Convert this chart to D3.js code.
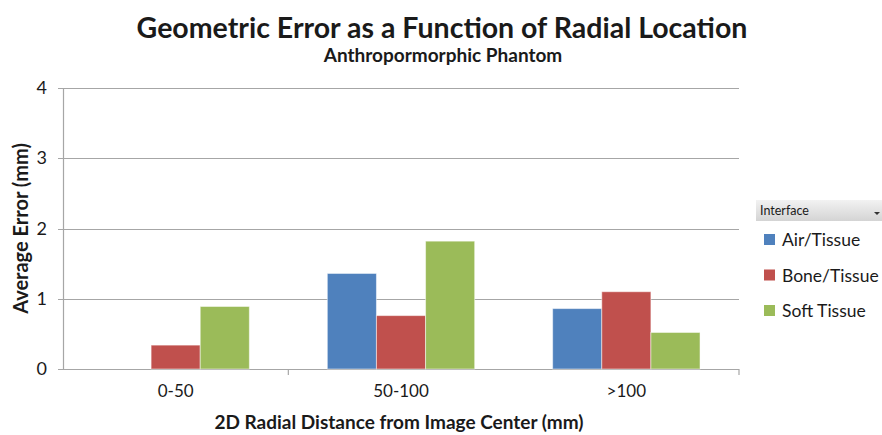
<!DOCTYPE html>
<html>
<head>
<meta charset="utf-8">
<style>
body, html {
	margin: 0;
	background: #fff;
}
text {
	font-family: Lato, "Open Sans", sans-serif;
	fill: #1a1a1a;
}
</style>
</head>
<body>
<div id="chartContainer"></div>
<script src="https://cdn.jsdelivr.net/npm/d3@7"></script>
<script>

const categories = ["0-50", "50-100", ">100"];
const seriesNames = ["Air/Tissue", "Bone/Tissue", "Soft Tissue"];
const airTissue = [0, 1.36, 0.86];
const boneTissue = [0.34, 0.76, 1.10];
const softTissue = [0.89, 1.82, 0.52];
const yTicks = [0, 1, 2, 3, 4];

const colors = ["#4F81BD", "#C0504D", "#9BBB59"];
const GRID_COLOR = "#a6a6a6";

const WIDTH = 882, HEIGHT = 435;
const margin = {top: 88, left: 63, right: 143, bottom: 67};

const svg = d3.select("#chartContainer").append("svg")
	.attr("width", WIDTH)
	.attr("height", HEIGHT);

const x0 = d3.scaleBand()
	.domain(categories)
	.range([margin.left, WIDTH - margin.right])
	.paddingInner(0.346)
	.paddingOuter(0.173);

const x1 = d3.scaleBand()
	.domain(seriesNames)
	.range([0, x0.bandwidth()]);

const y = d3.scaleLinear()
	.domain([0, 4])
	.range([HEIGHT - margin.bottom + 1, margin.top]);

// gridlines
svg.append("g").selectAll("line")
	.data(yTicks)
	.enter().append("line")
		.attr("x1", margin.left - 5)
		.attr("x2", WIDTH - margin.right)
		.attr("y1", d => Math.round(y(d)) + 0.5)
		.attr("y2", d => Math.round(y(d)) + 0.5)
		.style("stroke", GRID_COLOR)
		.style("stroke-width", 1.2);

// y axis line
svg.append("line")
	.attr("x1", margin.left + 0.5).attr("x2", margin.left + 0.5)
	.attr("y1", y(4)).attr("y2", y(0))
	.style("stroke", GRID_COLOR)
	.style("stroke-width", 1.2);

// x category boundary ticks
const step = x0.step();
const bounds = categories.map((c, i) => x0(c) - x0.paddingOuter() * step + (i + 1) * step);
svg.append("g").selectAll("line")
	.data(bounds)
	.enter().append("line")
		.attr("x1", d => d).attr("x2", d => d)
		.attr("y1", y(0)).attr("y2", y(0) + 6)
		.style("stroke", GRID_COLOR)
		.style("stroke-width", 1.2);

// y tick labels
svg.append("g").selectAll("text")
	.data(yTicks)
	.enter().append("text")
		.attr("x", 47)
		.attr("y", d => y(d) + 6)
		.attr("text-anchor", "end")
		.attr("font-size", "18px")
		.text(d => d);

// x tick labels
svg.append("g").selectAll("text")
	.data(categories)
	.enter().append("text")
		.attr("x", d => x0(d) + x0.bandwidth() / 2)
		.attr("y", 397)
		.attr("text-anchor", "middle")
		.attr("font-size", "17px")
		.text(d => d);

// bars
const tableRows = categories.map((c, i) => ({
	category: c,
	values: [airTissue[i], boneTissue[i], softTissue[i]]
}));

const groups = svg.append("g").selectAll("g")
	.data(tableRows)
	.enter().append("g")
		.attr("transform", d => `translate(${x0(d.category)},0)`);

groups.selectAll("rect")
	.data(d => d.values.map((v, i) => ({name: seriesNames[i], value: v, color: colors[i]})))
	.enter().append("rect")
		.filter(d => d.value > 0)
		.attr("x", d => x1(d.name))
		.attr("width", x1.bandwidth())
		.attr("y", d => y(d.value))
		.attr("height", d => y(0) - y(d.value))
		.style("fill", d => d.color)
		.style("stroke", "rgba(255,255,255,0.5)")
		.style("stroke-width", 1);

// titles
svg.append("text")
	.attr("x", 442).attr("y", 38)
	.attr("text-anchor", "middle")
	.attr("font-size", "28.5px")
	.attr("font-weight", "bold")
	.text("Geometric Error as a Function of Radial Location");

svg.append("text")
	.attr("x", 443).attr("y", 62)
	.attr("text-anchor", "middle")
	.attr("font-size", "19px")
	.attr("font-weight", "bold")
	.text("Anthropormorphic Phantom");

svg.append("text")
	.attr("transform", `translate(28,${(y(0) + y(4)) / 2}) rotate(-90)`)
	.attr("text-anchor", "middle")
	.attr("font-size", "20px")
	.attr("font-weight", "bold")
	.text("Average Error (mm)");

svg.append("text")
	.attr("x", (margin.left + WIDTH - margin.right) / 2 - 2)
	.attr("y", 429)
	.attr("text-anchor", "middle")
	.attr("font-size", "19px")
	.attr("font-weight", "bold")
	.text("2D Radial Distance from Image Center (mm)");

// legend
const grad = svg.append("defs").append("linearGradient")
	.attr("id", "hdr").attr("x1", 0).attr("y1", 0).attr("x2", 0).attr("y2", 1);
grad.append("stop").attr("offset", "0%").attr("stop-color", "#f2f2f2");
grad.append("stop").attr("offset", "100%").attr("stop-color", "#d4d4d4");

const legend = svg.append("g");
legend.append("rect")
	.attr("x", 756).attr("y", 200)
	.attr("width", 126).attr("height", 21)
	.style("fill", "url(#hdr)");
legend.append("text")
	.attr("x", 760).attr("y", 215)
	.attr("font-size", "12.5px")
	.text("Interface");
legend.append("path")
	.attr("d", "M874,212 l6,0 l-3,3 z")
	.style("fill", "#333");

const items = legend.selectAll(".item")
	.data(seriesNames)
	.enter().append("g")
		.attr("class", "item")
		.attr("transform", (d, i) => `translate(764,${240 + i * 35.5})`);
items.append("rect")
	.attr("x", 0).attr("y", -6)
	.attr("width", 11).attr("height", 11)
	.style("fill", (d, i) => colors[i]);
items.append("text")
	.attr("x", 18).attr("y", 6)
	.attr("font-size", "17.5px")
	.text(d => d);

</script>
</body>
</html>
